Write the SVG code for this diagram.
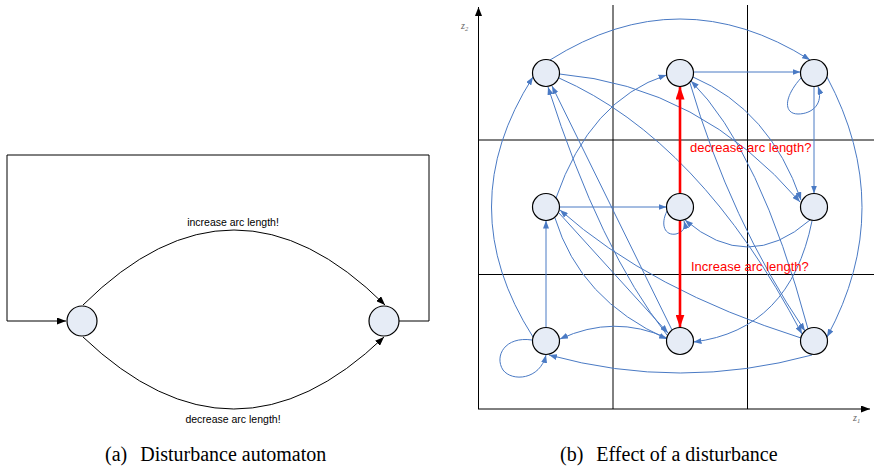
<svg xmlns="http://www.w3.org/2000/svg" width="874" height="468" viewBox="0 0 874 468">
<style>
.node{fill:#e6ecf6;stroke:#000;stroke-width:1.2}
.blk{fill:none;stroke:#000;stroke-width:1}
.blue{fill:none;stroke:#4a7ac4;stroke-width:1}
.red{fill:none;stroke:#ff0000;stroke-width:2.6}
.grid{fill:none;stroke:#000;stroke-width:1}
.lbl{font-family:"Liberation Sans",Arial,sans-serif;font-size:10.5px;fill:#000}
.rlbl{font-family:"Liberation Sans",Arial,sans-serif;font-size:13px;fill:#ff0000}
.cap{font-family:"Liberation Serif","Times New Roman",serif;font-size:20px;fill:#000}
.ax{font-family:"Liberation Serif","Times New Roman",serif;font-style:italic;font-size:10px;fill:#666}
</style>
<defs>
<marker id="ab" markerUnits="userSpaceOnUse" markerWidth="9" markerHeight="7" refX="9" refY="3.5" orient="auto"><path d="M0,0 L9,3.5 L0,7 z" fill="#000"/></marker>
<marker id="au" markerUnits="userSpaceOnUse" markerWidth="8" markerHeight="6" refX="8" refY="3" orient="auto"><path d="M0,0 L8,3 L0,6 z" fill="#4a7ac4"/></marker>
<marker id="ar" markerUnits="userSpaceOnUse" markerWidth="13" markerHeight="9" refX="13" refY="4.5" orient="auto"><path d="M0,0 L13,4.5 L0,9 z" fill="#ff0000"/></marker>
<marker id="ax" markerUnits="userSpaceOnUse" markerWidth="9" markerHeight="7" refX="9" refY="3.5" orient="auto"><path d="M0,0 L9,3.5 L0,7 z" fill="#000"/></marker>
</defs>

<!-- grid and axes -->
<g id="grid">
<line class="grid" x1="613" y1="5" x2="613" y2="409"/>
<line class="grid" x1="747.5" y1="5" x2="747.5" y2="409"/>
<line class="grid" x1="478" y1="140" x2="874" y2="140"/>
<line class="grid" x1="478" y1="274.5" x2="874" y2="274.5"/>
<line class="grid" x1="478.5" y1="409" x2="478.5" y2="7" marker-end="url(#ax)"/>
<line class="grid" x1="478" y1="409" x2="870" y2="409" marker-end="url(#ax)"/>
<text class="ax" x="461" y="29">z<tspan font-size="6.5" dy="2">2</tspan></text>
<text class="ax" x="853" y="421">z<tspan font-size="6.5" dy="2">1</tspan></text>
</g>

<!-- connectors -->
<g id="connectors">
<path class="blk" d="M7,321 L66,321" marker-end="url(#ab)"/>
<path class="blk" d="M399,321 L429,321 L429,155 L7,155 L7,321"/>
<path class="blk" d="M83,305 Q234,155 385,305" marker-end="url(#ab)"/>
<path class="blk" d="M83,337 Q234,481 384,337" marker-end="url(#ab)"/>

<path class="blue" d="M550,60 Q680,-22 810,60" marker-end="url(#au)"/>
<path class="blue" d="M693.5,72 L800.5,72" marker-end="url(#au)"/>
<path class="blue" d="M801,78 C783,98 784,114 798,114 C812,114 824,104 818,86.5" marker-end="url(#au)"/>
<path class="blue" d="M814,86.5 L814,193.5" marker-end="url(#au)"/>
<path class="blue" d="M827,77 Q897,208 827,337" marker-end="url(#au)"/>
<path class="blue" d="M533,337 Q450,207 533,77" marker-end="url(#au)"/>
<path class="blue" d="M546,327.5 L546,220.5" marker-end="url(#au)"/>
<path class="blue" d="M532,340 C505,336 494,356 503,370 C512,382 540,380 546,355" marker-end="url(#au)"/>
<path class="blue" d="M812,355 Q680,391 549,355" marker-end="url(#au)"/>
<path class="blue" d="M667,338 Q614,314 560,339" marker-end="url(#au)"/>
<path class="blue" d="M559.5,207 L666.5,207" marker-end="url(#au)"/>
<path class="blue" d="M556,198 Q590,100 666.5,75" marker-end="url(#au)"/>
<path class="blue" d="M810,220 Q748,274 685,220" marker-end="url(#au)"/>
<path class="blue" d="M812,221 Q790,330 693.5,342" marker-end="url(#au)"/>
<path class="blue" d="M667,211 C660,225 665,236 676,234 C683,232 686,228 684,221" marker-end="url(#au)"/>
<path class="blue" d="M559.5,74 Q700,86 800,202" marker-end="url(#au)"/>
<path class="blue" d="M559,78 Q700,140 802,334" marker-end="url(#au)"/>
<path class="blue" d="M672,330 L552,86" marker-end="url(#au)"/>
<path class="blue" d="M667,335 Q600,250 548,87" marker-end="url(#au)"/>
<path class="blue" d="M559,213 L668,333" marker-end="url(#au)"/>
<path class="blue" d="M555,218 Q580,300 667,339" marker-end="url(#au)"/>
<path class="blue" d="M801,338 Q650,290 560,210" marker-end="url(#au)"/>
<path class="blue" d="M693,77 Q770,110 801,200" marker-end="url(#au)"/>
<path class="blue" d="M690,83 Q730,220 805,331" marker-end="url(#au)"/>
<path class="blue" d="M808,329 Q760,150 691,81" marker-end="url(#au)"/>

<path class="red" d="M680,193.5 L680,86.5" marker-end="url(#ar)"/>
<path class="red" d="M680,220.5 L680,327.5" marker-end="url(#ar)"/>
</g>

<g id="n_left"><circle class="node" cx="82" cy="321" r="15"/></g>
<g id="n_right"><circle class="node" cx="384" cy="321" r="15"/></g>
<g id="n_TL"><circle class="node" cx="546" cy="73" r="13.5"/></g>
<g id="n_TM"><circle class="node" cx="680" cy="73" r="13.5"/></g>
<g id="n_TR"><circle class="node" cx="814" cy="73" r="13.5"/></g>
<g id="n_ML"><circle class="node" cx="546" cy="207" r="13.5"/></g>
<g id="n_MM"><circle class="node" cx="680" cy="207" r="13.5"/></g>
<g id="n_MR"><circle class="node" cx="814" cy="207" r="13.5"/></g>
<g id="n_BL"><circle class="node" cx="546" cy="341" r="13.5"/></g>
<g id="n_BM"><circle class="node" cx="680" cy="341" r="13.5"/></g>
<g id="n_BR"><circle class="node" cx="814" cy="341" r="13.5"/></g>

<g id="labels">
<text class="lbl" x="233" y="226" text-anchor="middle">increase arc length!</text>
<text class="lbl" x="233" y="423" text-anchor="middle">decrease arc length!</text>
<text class="rlbl" x="690" y="152">decrease arc length?</text>
<text class="rlbl" x="691" y="271">Increase arc length?</text>
<text class="cap" x="105" y="461">(a)<tspan dx="13">Disturbance automaton</tspan></text>
<text class="cap" x="560" y="461">(b)<tspan dx="13">Effect of a disturbance</tspan></text>
</g>
</svg>
